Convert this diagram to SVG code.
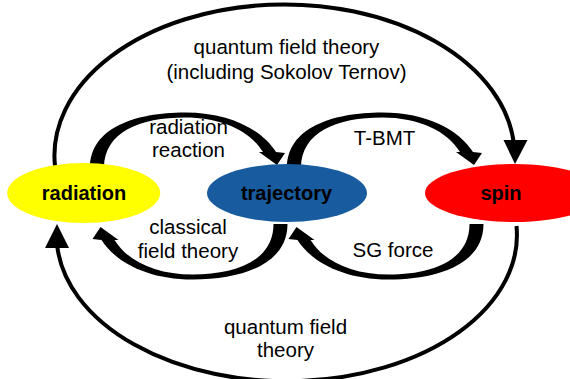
<svg xmlns="http://www.w3.org/2000/svg" width="570" height="379" viewBox="0 0 570 379">
<style>
 .lbl{font-family:"Liberation Sans",Arial,sans-serif;font-size:20.5px;fill:#000;text-anchor:middle}
 .node{font-family:"Liberation Sans",Arial,sans-serif;font-size:20px;font-weight:bold;fill:#000;text-anchor:middle}
 .wire{fill:none;stroke:#000;stroke-width:4}
 .head{fill:#000}
</style>
<defs>
 <path id="crv" d="M90,168 C90,128 135,112.5 185,112.5 C230,112.5 262,130 276,152 L285,153 L277,165 L259,152 L263,152 C250,131 222,117.5 185,117.5 C140,117.5 104,132 104,168 Z"/>
</defs>
<rect width="570" height="379" fill="#fff"/>
<g id="connectors">
 <path class="wire" d="M55,166 A230 151 0 0 1 514,145"/>
 <polygon class="head" points="503.5,140 527.5,140 515,164"/>
 <path class="wire" d="M516.5,226 A229.8 146 0 0 1 57,244"/>
 <polygon class="head" points="45,248 69,248 57,224"/>
 <use href="#crv" class="head"/>
 <use href="#crv" class="head" transform="translate(197,0)"/>
 <use href="#crv" class="head" transform="rotate(180 188.75 196)"/>
 <use href="#crv" class="head" transform="translate(196,0) rotate(180 188.75 196)"/>
</g>
<g id="labels">
 <text class="lbl" x="286.5" y="54">quantum field theory</text>
 <text class="lbl" x="286.5" y="79">(including Sokolov Ternov)</text>
 <text class="lbl" x="188.5" y="134">radiation</text>
 <text class="lbl" x="188.5" y="157">reaction</text>
 <text class="lbl" x="384.5" y="145">T-BMT</text>
 <text class="lbl" x="188" y="234">classical</text>
 <text class="lbl" x="188" y="258">field theory</text>
 <text class="lbl" x="393" y="257">SG force</text>
 <text class="lbl" x="285.5" y="334">quantum field</text>
 <text class="lbl" x="285.5" y="357">theory</text>
</g>
<g id="radiation">
 <ellipse cx="83.7" cy="193" rx="76.5" ry="30" fill="#ffff00"/>
 <text class="node" x="84" y="200">radiation</text>
</g>
<g id="trajectory">
 <ellipse cx="287" cy="193" rx="80" ry="29" fill="#185b9e"/>
 <text class="node" x="286.5" y="200">trajectory</text>
</g>
<g id="spin">
 <ellipse cx="514" cy="193" rx="89" ry="29" fill="#ff0000"/>
 <text class="node" x="501" y="200">spin</text>
</g>
</svg>
